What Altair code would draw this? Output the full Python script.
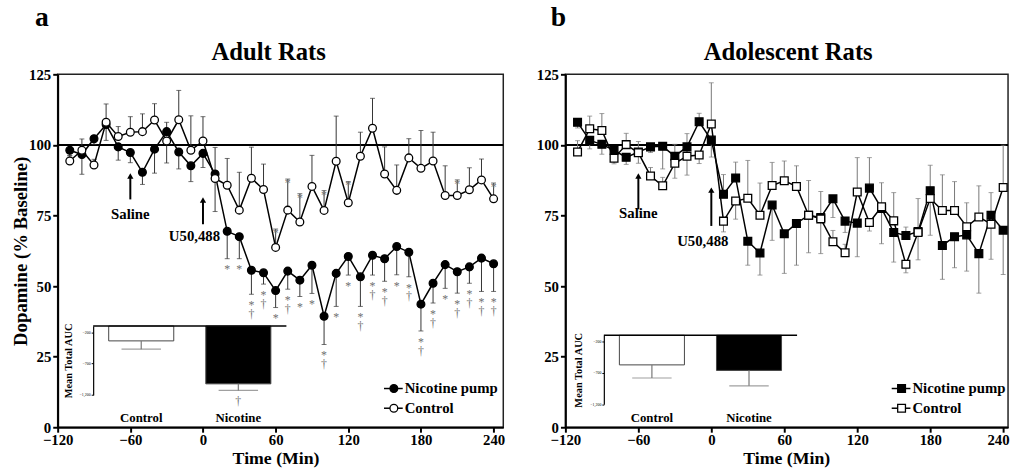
import altair as alt
import pandas as pd

FONT = "Liberation Serif"

TIME = [-110, -100, -90, -80, -70, -60, -50, -40, -30, -20, -10, 0,
        10, 20, 30, 40, 50, 60, 70, 80, 90, 100, 110, 120,
        130, 140, 150, 160, 170, 180, 190, 200, 210, 220, 230, 240]
X_TICKS = [-120, -60, 0, 60, 120, 180, 240]
Y_TICKS = [0, 25, 50, 75, 100, 125]

# ---- Panel a: adult rats ----
A_NIC = [98.1, 96.6, 102.2, 107.2, 99.3, 97.3, 90.3, 98.5, 104.7, 97.5, 92.6, 97.0,
         89.7, 69.4, 67.5, 55.6, 54.7, 48.4, 55.3, 52.1, 57.4, 39.3, 54.5, 60.5,
         53.3, 60.9, 59.7, 64.0, 62.0, 43.6, 51.0, 57.6, 55.1, 56.8, 59.9, 57.9]
A_NIC_ERR = [2, 7, 2, 5.6, 4.7, 3.6, 4.3, 8.5, 3.3, 6, 5.6, 5,
             13.3, 9.7, 7.8, 8.5, 4, 6, 6.4, 5.8, 10, 10, 11.7, 6.6,
             10.5, 7, 8, 10, 8.7, 9.5, 7, 8.4, 7.6, 5.8, 11.8, 9.8]
A_NIC_DIR = [-1, -1, -1, -1, -1, -1, -1, -1, 1, -1, -1, -1,
             -1, -1, -1, -1, -1, -1, -1, -1, -1, -1, -1, -1,
             -1, -1, -1, -1, -1, -1, -1, -1, -1, -1, -1, -1]
A_CTL = [94.3, 98.1, 92.9, 108.0, 103.0, 104.5, 104.7, 108.8, 101.4, 108.9, 98.1, 101.4,
         88.1, 85.7, 76.9, 88.2, 84.2, 63.7, 76.9, 72.7, 85.3, 76.8, 94.2, 79.5,
         96.0, 105.9, 89.7, 83.9, 95.4, 91.7, 94.3, 82.1, 82.1, 84.1, 87.6, 80.9]
A_CTL_ERR = [2, 4, 2, 6.5, 3.5, 5.5, 6.3, 5.8, 7.8, 10.4, 12.2, 8.6,
             11, 9.5, 13.4, 11, 9, 6.5, 11, 10, 11, 7, 16, 7.5,
             8.5, 10.6, 9.6, 9, 6.8, 13.4, 10.2, 10.5, 5.5, 7.8, 7.4, 5.6]
A_CTL_DIR = [1, 1, 1, 1, 1, 1, 1, 1, -1, 1, 1, 1,
             1, 1, 1, 1, 1, 1, 1, 1, 1, 1, 1, 1,
             1, 1, 1, 1, 1, 1, 1, 1, 1, 1, 1, 1]
A_NIC_STAR = [20, 30, 40, 50, 60, 70, 80, 90, 100, 110, 120, 130, 140, 150, 160,
              170, 180, 190, 200, 210, 220, 230, 240]
A_NIC_DAGGER = [40, 50, 70, 100, 130, 140, 150, 170, 180, 190, 210, 220, 230, 240]
A_CTL_STAR = [60, 70, 80, 100, 120, 210, 240]

# ---- Panel b: adolescent rats ----
B_NIC = [108.0, 101.6, 100.2, 98.1, 95.6, 97.5, 99.3, 99.5, 96.0, 99.3, 108.2, 101.7,
         82.5, 88.3, 65.9, 61.7, 78.7, 68.5, 72.2, 75.1, 74.3, 80.9, 73.0, 72.3,
         84.7, 77.5, 69.0, 67.9, 69.3, 83.8, 64.4, 67.5, 68.1, 61.5, 75.1, 69.8]
B_NIC_ERR = [2, 3, 3.5, 2, 2.5, 4, 2, 8, 7.8, 10, 3, 6,
             7, 5.6, 8.5, 7.8, 12.5, 14, 14.8, 13.3, 12.8, 6.6, 4, 11.9,
             10.8, 12.5, 10.5, 3, 10, 9, 12, 11, 12.8, 14, 8, 15.7]
B_NIC_DIR = [-1, -1, -1, -1, -1, -1, -1, -1, -1, -1, 1, -1,
             1, 1, -1, -1, -1, -1, -1, -1, -1, -1, -1, -1,
             1, -1, -1, 1, -1, 1, -1, -1, -1, -1, 1, -1]
B_CTL = [97.5, 105.7, 105.1, 95.3, 100.1, 97.2, 89.0, 85.5, 93.5, 96.0, 96.4, 107.4,
         73.0, 80.1, 81.1, 75.1, 85.6, 87.3, 85.3, 75.1, 73.8, 65.7, 61.8, 83.3,
         72.5, 78.1, 73.1, 57.7, 69.0, 81.0, 76.8, 76.8, 71.0, 74.5, 71.9, 84.9]
B_CTL_ERR = [4, 4.5, 6, 2, 4, 4, 3, 3, 6.7, 8, 3, 14.6,
             3.8, 6.4, 13.4, 11.4, 8.2, 7, 7.3, 12.3, 9.7, 4, 3, 12.2,
             3, 8.5, 10, 3, 12, 13, 12.6, 10.2, 8.5, 11, 12.4, 15]
B_CTL_DIR = [1, 1, 1, -1, 1, 1, 1, 1, 1, 1, -1, 1,
             -1, -1, 1, 1, 1, 1, 1, 1, 1, 1, 1, 1,
             -1, 1, 1, -1, 1, -1, 1, 1, 1, 1, -1, 1]

# ---- Insets: mean total AUC ----
AUC_GROUPS = ["Control", "Nicotine"]
A_AUC = [-337, -1022]
A_AUC_ERR = [132, 104]
B_AUC = [-572, -660]
B_AUC_ERR = [209, 246]

H = 358
SERIES = ["Nicotine pump", "Control"]


def txt(**kw):
    base = dict(font=FONT, fontWeight="bold", color="black")
    base.update(kw)
    return base


def panel(letter, title, nic, nic_err, nic_dir, ctl, ctl_err, ctl_dir, shape,
          err_color, auc, auc_err, inset_x0, inset_top, nic_star, nic_dag,
          ctl_star, auc_dag, ytitle, letter_x, title_x, sal_y, u_y0, u_y1, u_text_y,
          width, xmax, last_label_fix, xtitle_x):
    rows = []
    for s, vals, errs, dirs in [(SERIES[0], nic, nic_err, nic_dir),
                                (SERIES[1], ctl, ctl_err, ctl_dir)]:
        for t, v, e, d in zip(TIME, vals, errs, dirs):
            rows.append(dict(t=t, v=v, end=v + d * e, series=s))
    df = pd.DataFrame(rows)
    nic_df = df[df.series == SERIES[0]]
    ctl_df = df[df.series == SERIES[1]]

    xs = alt.Scale(domain=[-120, xmax], nice=False, zero=False)
    ys = alt.Scale(domain=[0, 125], nice=False, zero=False)
    xkw = dict(values=X_TICKS, title="Time (Min)", labelFont=FONT,
               labelFontWeight="bold", labelFontSize=15, titleFont=FONT,
               titleFontWeight="bold", titleFontSize=18, tickSize=5,
               tickWidth=2, domainWidth=2, domainColor="black",
               tickColor="black", labelColor="black", titleColor="black",
               grid=False, labelPadding=1, titlePadding=2, labelFlush=False,
               titleX=xtitle_x)
    if last_label_fix:
        xkw["labelAlign"] = alt.ExprRef(expr="datum.value == 240 ? 'right' : 'center'")
        xkw["labelOffset"] = alt.ExprRef(expr="datum.value == 240 ? 6 : 0")
    xax = alt.Axis(**xkw)
    yax = alt.Axis(values=Y_TICKS, title=ytitle, labelFont=FONT,
                   labelFontWeight="bold", labelFontSize=15, titleFont=FONT,
                   titleFontWeight="bold", titleFontSize=19, tickSize=5,
                   tickWidth=2, domainWidth=2, domainColor="black",
                   tickColor="black", labelColor="black", titleColor="black",
                   grid=False, labelPadding=2, titlePadding=-2, labelFlush=False)

    def X(f):
        return alt.X(f"{f}:Q", scale=xs, axis=xax)

    def Y(f):
        return alt.Y(f"{f}:Q", scale=ys, axis=yax)

    fill = alt.Fill("series:N", scale=alt.Scale(domain=SERIES, range=["black", "white"]),
                    legend=None)

    hline = alt.Chart(pd.DataFrame({"v": [100]})).mark_rule(
        color="black", strokeWidth=2).encode(y=Y("v"))
    err = alt.Chart(df).mark_rule(color=err_color, strokeWidth=1).encode(
        x=X("t"), y=Y("v"), y2="end")
    cap = alt.Chart(df).mark_tick(orient="horizontal", size=5, thickness=1,
                                  color=err_color).encode(x=X("t"), y=Y("end"))
    layers = [hline, err, cap]
    for sdf in [nic_df, ctl_df]:
        layers.append(alt.Chart(sdf).mark_line(color="black", strokeWidth=1.5).encode(
            x=X("t"), y=Y("v")))
        layers.append(alt.Chart(sdf).mark_point(
            shape=shape, filled=True, size=62, stroke="black", strokeWidth=1.3,
            opacity=1).encode(x=X("t"), y=Y("v"), fill=fill))

    gray = "#707070"
    if nic_star:
        layers.append(alt.Chart(nic_df[nic_df.t.isin(nic_star)]).mark_text(
            text="*", fontSize=12, font=FONT, color=gray, dy=11).encode(
            x=X("t"), y=Y("end")))
    if nic_dag:
        layers.append(alt.Chart(nic_df[nic_df.t.isin(nic_dag)]).mark_text(
            text="\u2020", fontSize=12, font=FONT, color=gray, dy=20).encode(
            x=X("t"), y=Y("end")))
    if ctl_star:
        layers.append(alt.Chart(ctl_df[ctl_df.t.isin(ctl_star)]).mark_text(
            text="*", fontSize=12, font=FONT, color=gray, dy=4).encode(
            x=X("t"), y=Y("end")))

    # arrows and drug labels
    arr = pd.DataFrame({"t": [-60, 0], "y0": [sal_y[0], u_y0], "y1": [sal_y[1], u_y1]})
    layers.append(alt.Chart(arr).mark_rule(color="black", strokeWidth=2).encode(
        x=X("t"), y=Y("y0"), y2="y1"))
    layers.append(alt.Chart(arr).mark_point(shape="triangle-up", filled=True, size=40,
                                            color="black", opacity=1, dy=-2).encode(
        x=X("t"), y=Y("y1")))
    lab = pd.DataFrame({"t": [-60, -7], "y": [sal_y[2], u_text_y],
                        "label": ["Saline", "U50,488"]})
    layers.append(alt.Chart(lab).mark_text(**txt(fontSize=15)).encode(
        x=X("t"), y=Y("y"), text="label:N"))

    # legend
    for i, s in enumerate(SERIES):
        yp = 318.7 + 20 * i
        one = alt.Chart(pd.DataFrame({"series": [s]}))
        layers.append(one.mark_rule(color="black", strokeWidth=1.5).encode(
            x=alt.value(331), x2=alt.value(350), y=alt.value(yp)))
        layers.append(one.mark_point(shape=shape, filled=True, size=62, stroke="black",
                                     strokeWidth=1.3, opacity=1).encode(
            x=alt.value(341), y=alt.value(yp), fill=fill))
        layers.append(one.mark_text(**txt(fontSize=15, align="left")).encode(
            x=alt.value(352), y=alt.value(yp), text="series:N"))

    # titles
    one = alt.Chart(pd.DataFrame({"k": [0]}))
    layers.append(one.mark_text(**txt(fontSize=28, text=letter)).encode(
        x=alt.value(letter_x), y=alt.value(-57)))
    layers.append(one.mark_text(**txt(fontSize=25, text=title)).encode(
        x=alt.value(title_x), y=alt.value(-23)))

    main = alt.layer(*layers)

    # inset
    idf = pd.DataFrame({"g": AUC_GROUPS, "auc": auc,
                        "end": [a - e for a, e in zip(auc, auc_err)],
                        "top": [-100, -100]})
    ix = alt.X("g:N", scale=alt.Scale(domain=AUC_GROUPS, range=[inset_x0, inset_x0 + 196],
                                      paddingInner=0.33, paddingOuter=0.16), axis=None)
    iys = alt.Scale(domain=[-1200, -100], range=[inset_top + 70, inset_top],
                    nice=False, zero=False)
    iax = alt.Axis(orient="left", offset=-inset_x0, values=[-200, -700, -1200],
                   title="Mean Total AUC", titleFont=FONT, titleFontWeight="bold",
                   titleFontSize=10.5, titleColor="black", labelFontSize=4,
                   labelColor="black", labelFont=FONT, tickSize=2, tickColor="black",
                   domainColor="black", domainWidth=1.2, grid=False, labelPadding=1,
                   titlePadding=6)

    def IY(f):
        return alt.Y(f"{f}:Q", scale=iys, axis=iax)

    bars = alt.Chart(idf).mark_bar(stroke="#444", strokeWidth=1).encode(
        x=ix, y=IY("auc"), y2="top",
        fill=alt.Fill("g:N", scale=alt.Scale(domain=AUC_GROUPS, range=["white", "black"]),
                      legend=None))
    ierr = alt.Chart(idf).mark_rule(color="#777", strokeWidth=1.2).encode(
        x=ix, y=IY("auc"), y2="end")
    icap = alt.Chart(idf).mark_tick(orient="horizontal", size=40, thickness=1.2,
                                    color="#777").encode(x=ix, y=IY("end"))
    itop = alt.Chart(idf.head(1)).mark_rule(color="black", strokeWidth=1.5).encode(
        y=IY("top"), x=alt.value(inset_x0), x2=alt.value(inset_x0 + 196))
    ilab = alt.Chart(idf).mark_text(**txt(fontSize=13)).encode(
        x=ix, y=alt.value(348.7), text="g:N")
    ilayers = [bars, ierr, icap, itop, ilab]
    if auc_dag:
        ilayers.append(alt.Chart(idf[idf.g == "Nicotine"]).mark_text(
            text="\u2020", fontSize=12, font=FONT, color=gray, dy=11).encode(
            x=ix, y=IY("end")))
    inset = alt.layer(*ilayers)

    return alt.layer(main, inset).resolve_scale(
        x="independent", y="independent", fill="independent").properties(
        width=width, height=H)


pa = panel("a", "Adult Rats", A_NIC, A_NIC_ERR, A_NIC_DIR, A_CTL, A_CTL_ERR, A_CTL_DIR,
           "circle", "#333", A_AUC, A_AUC_ERR, 36, 255.3, A_NIC_STAR, A_NIC_DAGGER,
           A_CTL_STAR, True, "Dopamine (% Baseline)", -16, 214,
           (80.7, 89.0, 75.4), 71.9, 80.5, 67.8, 452, 248, False, 221)
pb = panel("b", "Adolescent Rats", B_NIC, B_NIC_ERR, B_NIC_DIR, B_CTL, B_CTL_ERR,
           B_CTL_DIR, "square", "#777", B_AUC, B_AUC_ERR, 39, 264.7, [], [], [],
           False, "", -7, 226, (77.2, 89.0, 75.7), 71.3, 84.0, 66.0, 449, 244, True, 224)

chart = alt.hconcat(pa, pb, spacing=29).properties(
    padding={"left": 10.5, "top": 0, "right": 0, "bottom": 0}
).configure_view(stroke="#222", strokeWidth=1.5)

chart.save("out.html", embed_options={"renderer": "svg", "actions": False})
